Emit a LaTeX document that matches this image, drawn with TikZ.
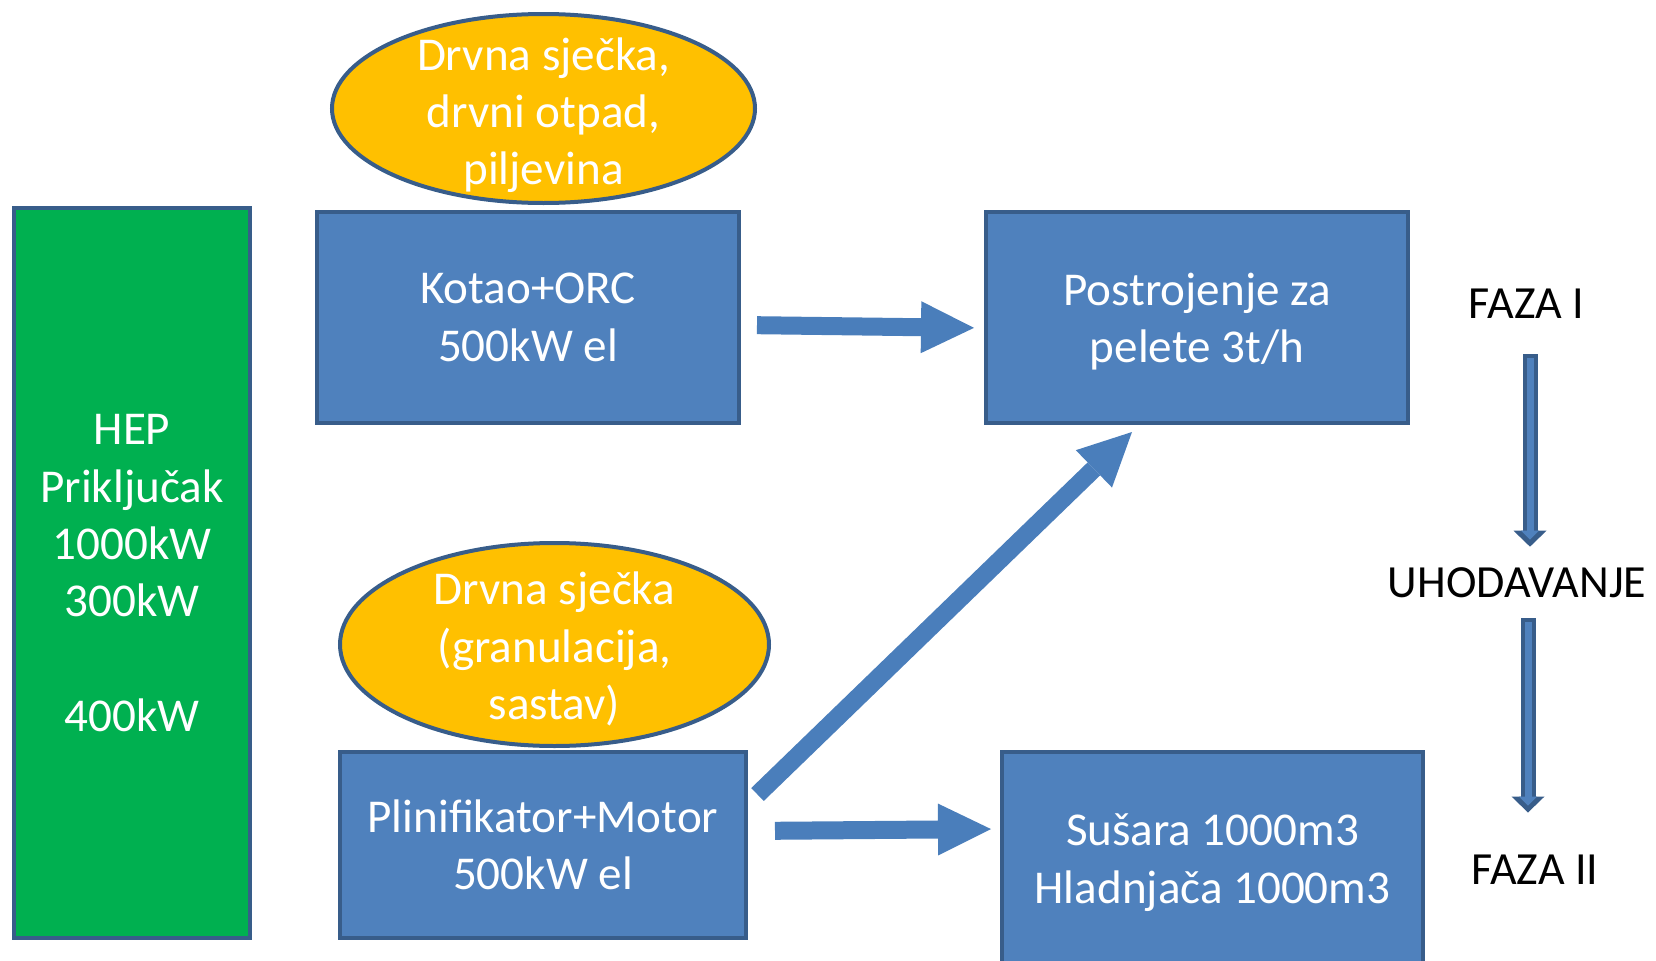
\documentclass[tikz,border=0pt]{standalone}
\usepackage{fontspec}
\setmainfont{Carlito}
\usetikzlibrary{arrows.meta,shapes.geometric}
\definecolor{boxblue}{HTML}{4F81BD}
\definecolor{edgeblue}{HTML}{385D8A}
\definecolor{hepgreen}{HTML}{00B050}
\definecolor{chipgold}{HTML}{FFC000}
\definecolor{arrowblue}{HTML}{4A7EBB}
\begin{document}
\begin{tikzpicture}[
  box/.style={draw=edgeblue, line width=0.04cm, fill=boxblue, text=white, align=center, inner sep=0pt, font=\fontsize{13.4}{16.3}\selectfont},
  chip/.style={ellipse, draw=edgeblue, line width=0.04cm, fill=chipgold, inner sep=0pt},
  chiptext/.style={text=white, align=center, font=\fontsize{13.4}{16.3}\selectfont},
  phasetext/.style={inner sep=0pt, font=\fontsize{13.1}{16}\selectfont},
  flow/.style={arrowblue, line width=0.18cm, -{Triangle[length=0.53cm, width=0.52cm, line width=0pt]}},
  phaseout/.style={edgeblue, line width=0.15cm, -{Triangle[length=0.16cm, width=0.33cm, line width=0pt]}},
  phasein/.style={boxblue, line width=0.07cm, -{Triangle[length=0.09cm, width=0.18cm, line width=0pt]}}
]
\useasboundingbox (0,0) rectangle (16.56,9.6);
\clip (0,0) rectangle (16.56,9.6);
% boxes
\node[box, fill=hepgreen, minimum width=2.36cm, minimum height=7.30cm] (hep) at (1.32,3.87) {HEP\\Priključak\\1000kW\\300kW\\[16.3pt]400kW};
\node[box, minimum width=4.22cm, minimum height=2.11cm] (kotao) at (5.28,6.425) {Kotao+ORC\\500kW el};
\node[box, minimum width=4.22cm, minimum height=2.11cm, text depth=0pt] (post) at (11.97,6.425) {Postrojenje za\\pelete 3t/h};
\node[box, minimum width=4.06cm, minimum height=1.86cm] (plin) at (5.43,1.15) {Plinifikator+Motor\\500kW el};
\node[box, minimum width=4.21cm, minimum height=2.13cm, text depth=0pt] (susara) at (12.125,1.015) {Sušara 1000m3\\Hladnjača 1000m3};
% fuel
\node[chip, minimum width=4.23cm, minimum height=1.89cm, label={[chiptext, yshift=-0.065cm]center:{Drvna sječka,\\drvni otpad,\\piljevina}}] (gorivo1) at (5.435,8.515) {};
\node[chip, minimum width=4.29cm, minimum height=2.03cm, label={[chiptext, yshift=-0.045cm]center:{Drvna sječka\\(granulacija,\\sastav)}}] (gorivo2) at (5.545,3.155) {};
% phases
\node[phasetext] (faza1) at (15.265,6.56) {FAZA I};
\node[phasetext] (uhod) at (15.17,3.775) {UHODAVANJE};
\node[phasetext] (faza2) at (15.35,0.90) {FAZA II};
% arrows
\draw[flow, shorten <=0.16cm, shorten >=0.10cm] ([yshift=-0.075cm]kotao.east) -- ([yshift=-0.105cm]post.west);
\draw[flow] ([shift={(0.095,-0.445)}]plin.north east) -- ([shift={(-0.65,-0.07)}]post.south);
\draw[flow, shorten <=0.27cm, shorten >=0.09cm] ([yshift=0.14cm]plin.east) -- ([yshift=0.295cm]susara.west);
\draw[phaseout, shorten <=0.35cm, shorten >=0.20cm] ([xshift=0.035cm]faza1.south) -- ([xshift=0.035cm]faza1.south |- uhod.north);
\draw[phasein, shorten <=0.39cm, shorten >=0.27cm] ([xshift=0.035cm]faza1.south) -- ([xshift=0.035cm]faza1.south |- uhod.north);
\draw[phaseout, shorten <=0.20cm, shorten >=0.42cm] ([xshift=-0.07cm]faza2.north |- uhod.south) -- ([xshift=-0.07cm]faza2.north);
\draw[phasein, shorten <=0.24cm, shorten >=0.49cm] ([xshift=-0.07cm]faza2.north |- uhod.south) -- ([xshift=-0.07cm]faza2.north);
\end{tikzpicture}
\end{document}
